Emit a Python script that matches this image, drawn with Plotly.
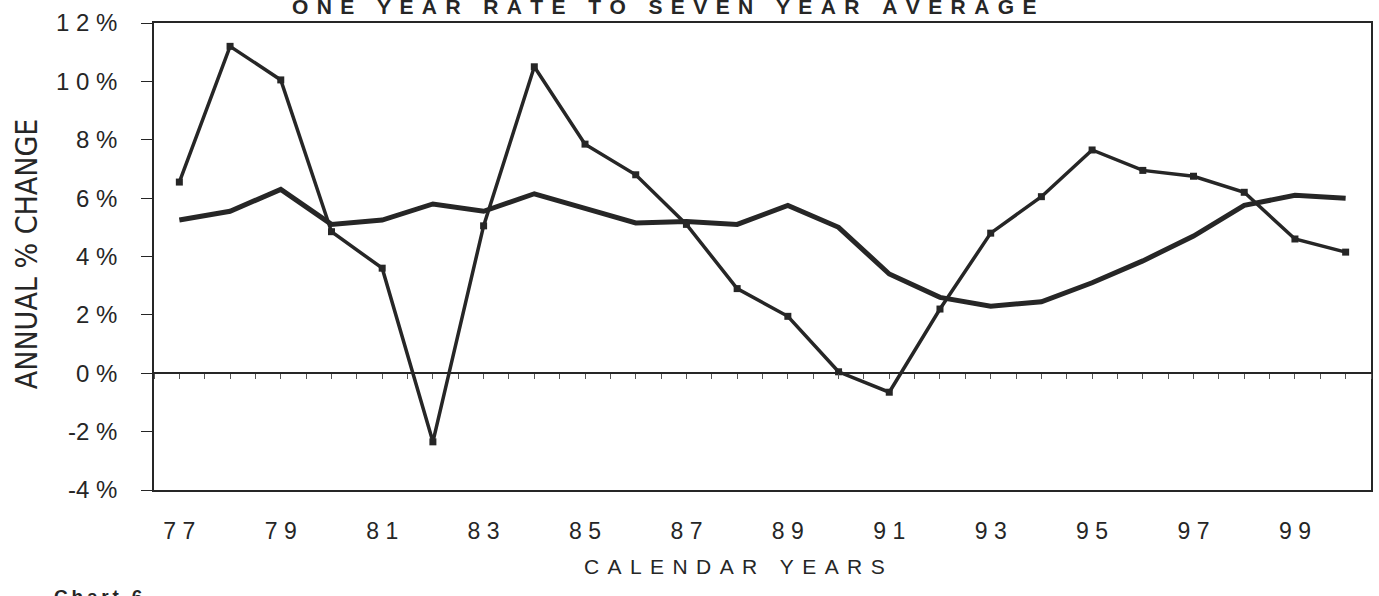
import plotly.graph_objects as go

# Calendar years on the horizontal axis
years = list(range(1977, 2001))
year_tickvals = list(range(1977, 2000, 2))
year_ticktext = ["7 7", "7 9", "8 1", "8 3", "8 5", "8 7", "8 9", "9 1", "9 3", "9 5", "9 7", "9 9"]

# Annual % change: one-year rate and seven-year average
one_year_rate = [6.55, 11.2, 10.05, 4.85, 3.6, -2.35, 5.05, 10.5, 7.85, 6.8, 5.1, 2.9,
                 1.95, 0.05, -0.65, 2.2, 4.8, 6.05, 7.65, 6.95, 6.75, 6.2, 4.6, 4.15]
seven_year_avg = [5.25, 5.55, 6.3, 5.1, 5.25, 5.8, 5.55, 6.15, 5.65, 5.15, 5.2, 5.1,
                  5.75, 5.0, 3.4, 2.6, 2.3, 2.45, 3.1, 3.85, 4.7, 5.75, 6.1, 6.0]

pct_tickvals = [-4, -2, 0, 2, 4, 6, 8, 10, 12]
pct_ticktext = ["-4 %", "-2 %", "0 %", "2 %", "4 %", "6 %", "8 %", "1 0 %", "1 2 %"]

INK = "#262626"
FONT = "Liberation Sans, Arial, sans-serif"


def spaced(s, gap="\u2009"):
    return gap.join(s)


fig = go.Figure()

fig.add_trace(go.Scatter(
    x=years, y=seven_year_avg, mode="lines",
    line=dict(color=INK, width=5),
    name="Seven year average",
))
fig.add_trace(go.Scatter(
    x=years, y=one_year_rate, mode="lines+markers",
    line=dict(color=INK, width=3.5),
    marker=dict(symbol="square", size=7, color=INK),
    name="One year rate",
))

# zero line with half-category tick marks
fig.add_trace(go.Scatter(x=[years[0]], y=[0], xaxis="x2", mode="markers",
                         marker=dict(opacity=0), showlegend=False, hoverinfo="skip"))

xr = [years[0] - 0.5, years[-1] + 0.5]

fig.update_layout(
    width=1379, height=596,
    margin=dict(l=154, r=6, t=23, b=106),
    paper_bgcolor="white", plot_bgcolor="white",
    showlegend=False,
    font=dict(family=FONT, color=INK),
    xaxis=dict(
        range=xr, tickmode="array", tickvals=year_tickvals, ticktext=year_ticktext,
        showgrid=False, zeroline=False, showline=True, mirror=True,
        linecolor=INK, linewidth=1.5, ticks="",
        tickfont=dict(size=23, color=INK, family=FONT),
        ticklabelstandoff=20,
    ),
    xaxis2=dict(
        range=xr, overlaying="x", anchor="free", position=0.25,
        showline=True, linecolor=INK, linewidth=1.5,
        tickmode="linear", tick0=xr[0], dtick=0.5,
        ticks="outside", ticklen=5, tickwidth=1, tickcolor="#555",
        showticklabels=False, showgrid=False, zeroline=False,
    ),
    yaxis=dict(
        range=[-4, 12], tickmode="array", tickvals=pct_tickvals, ticktext=pct_ticktext,
        showgrid=False, zeroline=False, showline=True, mirror=True,
        linecolor=INK, linewidth=1.5, ticks="outside", ticklen=11, tickwidth=1.2,
        tickcolor=INK, tickfont=dict(size=24, color=INK, family=FONT),
        ticklabelstandoff=19,
    ),
    annotations=[
        dict(text=spaced("ONE YEAR RATE TO SEVEN YEAR AVERAGE", "\u2009\u2009"),
             xref="paper", yref="paper", x=(665 - 154) / 1219, y=1.0, yanchor="bottom", yshift=3,
             showarrow=False, font=dict(size=21, family=FONT, color=INK, weight="bold")),
        dict(text="ANNUAL % CHANGE", textangle=-90,
             xref="paper", yref="paper", x=(27 - 154) / 1219, y=(490 - 254) / 467,
             xanchor="center", yanchor="middle", showarrow=False,
             font=dict(size=30, family="Liberation Sans Narrow, Arial Narrow, DejaVu Sans Condensed, sans-serif", color=INK)),
        dict(text=spaced("CALENDAR YEARS", "\u2009\u2009"),
             xref="paper", yref="paper", x=(735 - 154) / 1219, y=(490 - 566) / 467,
             xanchor="center", yanchor="middle", showarrow=False,
             font=dict(size=21, family=FONT, color=INK)),
        dict(text=spaced("Chart 6", "\u2009"),
             xref="paper", yref="paper", x=(52 - 154) / 1219, y=(490 - 584) / 467,
             xanchor="left", yanchor="top", showarrow=False,
             font=dict(size=19, family=FONT, color=INK, weight="bold")),
    ],
)

fig.write_html("out.html")
